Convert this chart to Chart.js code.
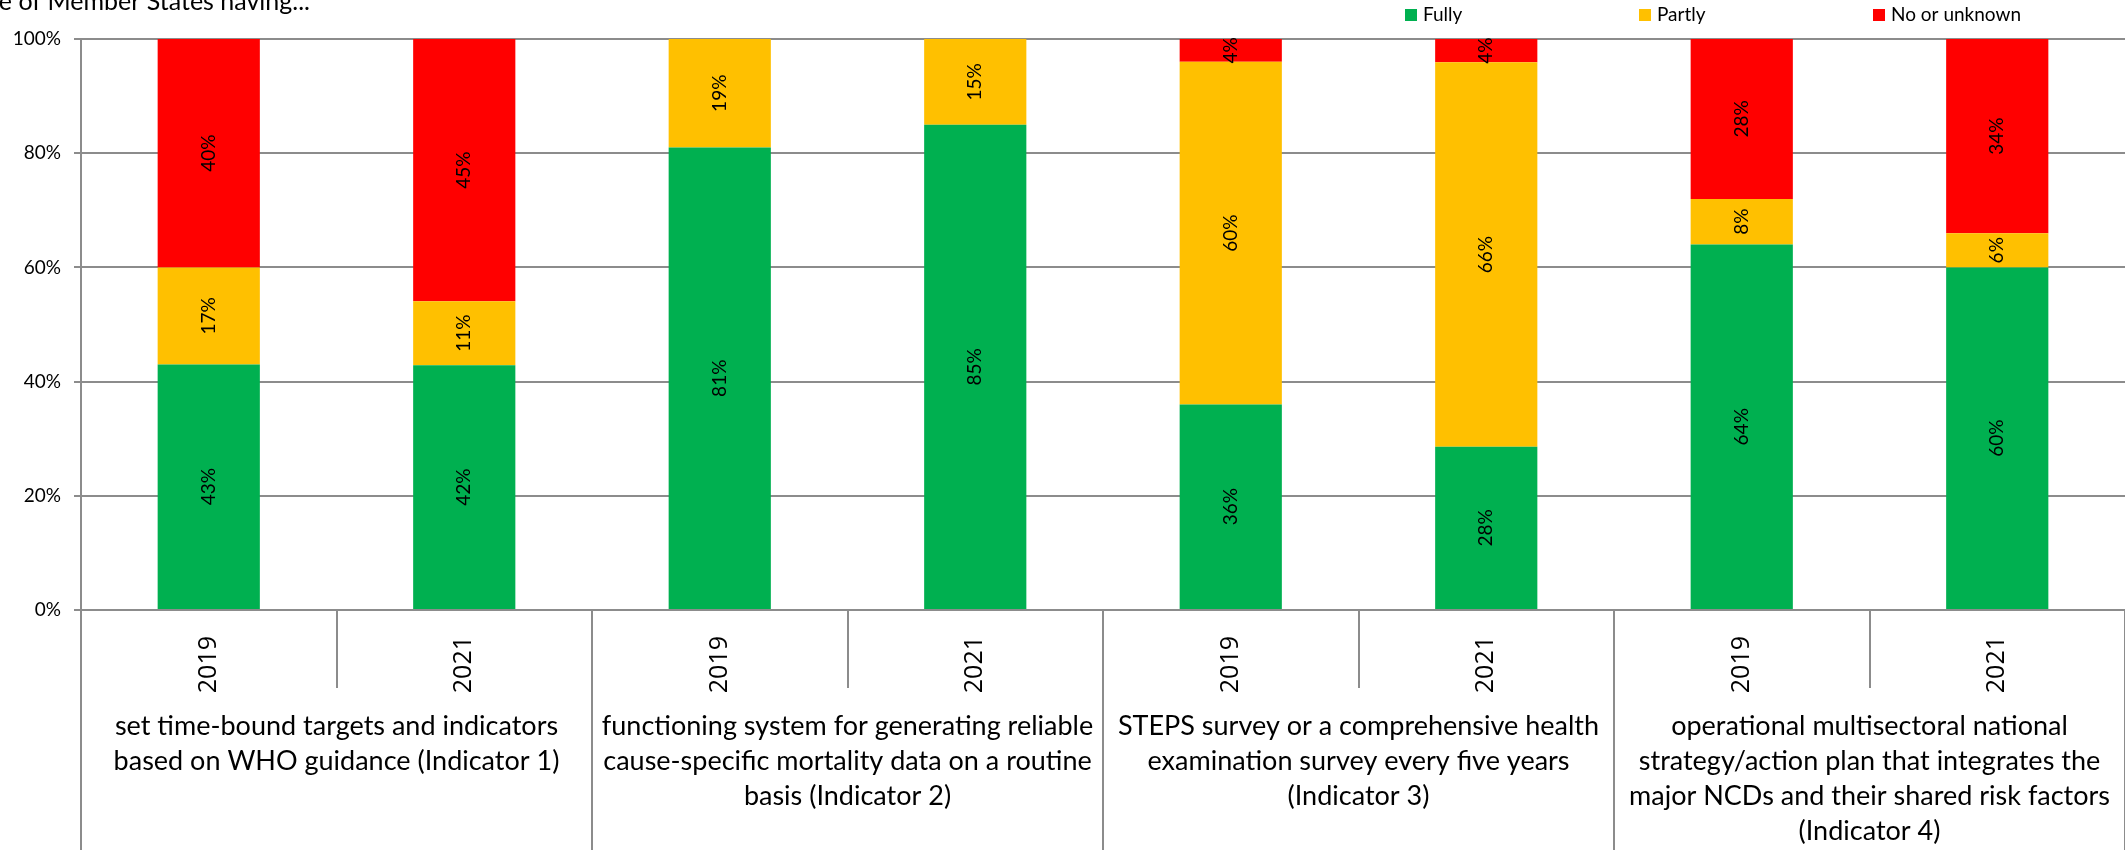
<!DOCTYPE html>
<html>
<head>
<meta charset="utf-8">
<script src="https://cdn.jsdelivr.net/npm/chart.js@4.4.0/dist/chart.umd.min.js"></script>
<style>
  html, body { margin: 0; padding: 0; background: #fff; }
  #wrap { width: 2125px; height: 850px; position: relative; }
</style>
</head>
<body>
<div id="wrap"><canvas id="ncdChart"></canvas></div>
<script>
const titleText = 'Percentage of Member States having...';
const years = ['2019', '2021', '2019', '2021', '2019', '2021', '2019', '2021'];
const groupLabels = [
    ['set time-bound targets and indicators', 'based on WHO guidance (Indicator 1)'],
    ['functioning system for generating reliable', 'cause-specific mortality data on a routine', 'basis (Indicator 2)'],
    ['STEPS survey or a comprehensive health', 'examination survey every five years', '(Indicator 3)'],
    ['operational multisectoral national', 'strategy/action plan that integrates the', 'major NCDs and their shared risk factors', '(Indicator 4)']
];
const seriesNames = ['Fully', 'Partly', 'No or unknown'];
const fully = [43, 42, 81, 85, 36, 28, 64, 60];
const partly = [17, 11, 19, 15, 60, 66, 8, 6];
const noOrUnknown = [40, 45, 0, 0, 4, 4, 28, 34];
const yTicks = [0, 20, 40, 60, 80, 100];

document.addEventListener('DOMContentLoaded', function() {
    const gray = '#8c8c8c';
    const colors = ['#00B050', '#FFC000', '#FF0000'];

    // 100% stacked, like Excel: plot each value as its share of the column total
    const totals = fully.map((v, i) => v + partly[i] + noOrUnknown[i]);
    const share = arr => arr.map((v, i) => v / totals[i] * 100);

    const decorations = {
        id: 'decorations',
        afterDraw(chart) {
            const ctx = chart.ctx;
            const x = chart.scales.x;
            const area = chart.chartArea;

            // value labels, rotated, centred in each segment
            ctx.save();
            ctx.font = '19px Lato';
            ctx.fillStyle = '#000';
            ctx.textAlign = 'center';
            ctx.textBaseline = 'middle';
            chart.data.datasets.forEach((ds, di) => {
                chart.getDatasetMeta(di).data.forEach((bar, i) => {
                    const v = ds.raw[i];
                    if (!v) return;
                    ctx.save();
                    ctx.translate(bar.x, (bar.y + bar.base) / 2);
                    ctx.rotate(-Math.PI / 2);
                    ctx.fillText(v + '%', 0, 0);
                    ctx.restore();
                });
            });
            ctx.restore();

            // category separators and group labels
            const step = x.getPixelForTick(1) - x.getPixelForTick(0);
            const start = x.getPixelForTick(0) - step / 2;
            ctx.save();
            ctx.strokeStyle = gray;
            ctx.lineWidth = 2;
            for (let i = 0; i <= years.length; i++) {
                const px = Math.round(start + i * step);
                const bottom = i % 2 === 0 ? chart.height : area.bottom + 78;
                ctx.beginPath();
                ctx.moveTo(px, area.bottom);
                ctx.lineTo(px, bottom);
                ctx.stroke();
            }
            ctx.font = '27px Lato';
            ctx.fillStyle = '#000';
            ctx.textAlign = 'center';
            ctx.textBaseline = 'middle';
            groupLabels.forEach((lines, g) => {
                const cx = start + (g * 2 + 1) * step;
                lines.forEach((line, k) => {
                    ctx.fillText(line, cx, area.bottom + 116 + k * 35);
                });
            });
            ctx.restore();

            // legend
            ctx.save();
            ctx.font = '19px Lato';
            ctx.textBaseline = 'middle';
            ctx.textAlign = 'left';
            chart.data.datasets.forEach((ds, di) => {
                const bx = 1405 + di * 234;
                ctx.fillStyle = ds.backgroundColor;
                ctx.fillRect(bx, 9, 12, 12);
                ctx.fillStyle = '#000';
                ctx.fillText(ds.label, bx + 18, 15);
            });
            ctx.restore();

            // title (cut off at the left edge, as in the source)
            ctx.save();
            ctx.font = '25px Lato';
            ctx.fillStyle = '#000';
            ctx.textAlign = 'right';
            ctx.textBaseline = 'alphabetic';
            ctx.fillText(titleText, 310, 10);
            ctx.restore();
        }
    };

    const ctx = document.getElementById('ncdChart').getContext('2d');
    new Chart(ctx, {
        type: 'bar',
        data: {
            labels: years,
            datasets: [fully, partly, noOrUnknown].map((arr, i) => ({
                label: seriesNames[i],
                data: share(arr),
                raw: arr,
                backgroundColor: colors[i],
                borderWidth: 0,
                categoryPercentage: 1,
                barPercentage: 0.4
            }))
        },
        options: {
            responsive: true,
            maintainAspectRatio: false,
            animation: false,
            layout: { padding: { top: 39, left: 0, right: 0, bottom: 0 } },
            plugins: {
                legend: { display: false },
                tooltip: { enabled: false }
            },
            scales: {
                x: {
                    stacked: true,
                    grid: { display: false },
                    border: { display: true, color: gray, width: 2 },
                    ticks: {
                        autoSkip: false,
                        minRotation: 90,
                        maxRotation: 90,
                        padding: 18,
                        color: '#000',
                        font: { family: 'Open Sans', size: 25 }
                    },
                    afterFit(scale) { scale.height = 240; }
                },
                y: {
                    stacked: true,
                    min: 0,
                    max: 100,
                    afterBuildTicks(scale) {
                        scale.ticks = yTicks.map(v => ({ value: v }));
                    },
                    grid: { color: gray, lineWidth: 2, tickLength: 7 },
                    border: { display: true, color: gray, width: 2 },
                    ticks: {
                        padding: 13,
                        color: '#000',
                        font: { family: 'Lato', size: 19 },
                        callback: v => v + '%'
                    },
                    afterFit(scale) { scale.width = 81; }
                }
            }
        },
        plugins: [decorations]
    });
});
</script>
</body>
</html>
